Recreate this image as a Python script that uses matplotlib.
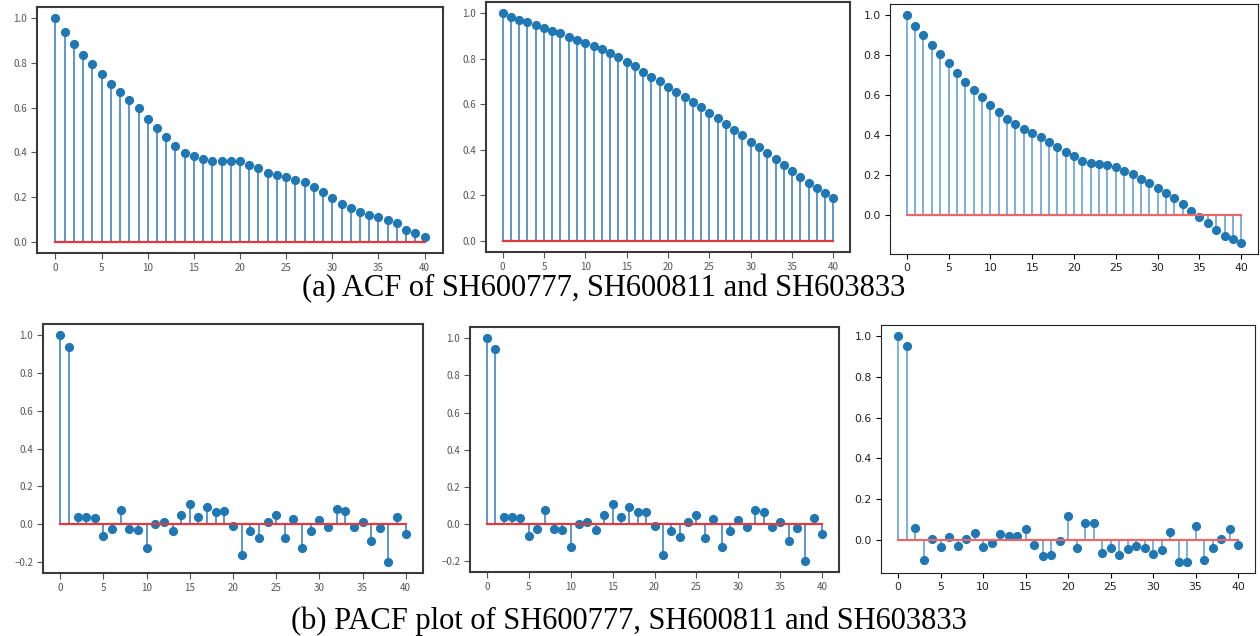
import matplotlib.pyplot as plt
import numpy as np

## ACF / PACF values read per lag (0..40)
lags = np.arange(41)

acf_600777 = [1.000, 0.939, 0.884, 0.837, 0.797, 0.752, 0.706, 0.672, 0.636, 0.599,
              0.549, 0.507, 0.470, 0.430, 0.399, 0.382, 0.369, 0.363, 0.360, 0.363,
              0.363, 0.345, 0.328, 0.309, 0.299, 0.290, 0.275, 0.267, 0.245, 0.221,
              0.196, 0.170, 0.149, 0.134, 0.122, 0.110, 0.097, 0.085, 0.055, 0.040,
              0.020]
acf_600811 = [1.000, 0.982, 0.971, 0.960, 0.949, 0.937, 0.924, 0.912, 0.897, 0.884,
              0.871, 0.856, 0.843, 0.827, 0.806, 0.787, 0.770, 0.744, 0.721, 0.701,
              0.676, 0.654, 0.632, 0.611, 0.587, 0.563, 0.540, 0.513, 0.488, 0.463,
              0.435, 0.411, 0.384, 0.359, 0.333, 0.308, 0.282, 0.255, 0.230, 0.208,
              0.186]
acf_603833 = [1.000, 0.948, 0.901, 0.853, 0.804, 0.759, 0.712, 0.665, 0.623, 0.590,
              0.549, 0.515, 0.480, 0.454, 0.429, 0.410, 0.387, 0.363, 0.337, 0.313,
              0.295, 0.271, 0.260, 0.256, 0.250, 0.238, 0.221, 0.203, 0.179, 0.156,
              0.132, 0.106, 0.082, 0.055, 0.020, -0.010, -0.044, -0.079, -0.109, -0.124,
              -0.141]

pacf_600777 = [1.000, 0.940, 0.037, 0.037, 0.032, -0.062, -0.027, 0.073, -0.027, -0.030,
               -0.126, -0.002, 0.009, -0.034, 0.050, 0.107, 0.039, 0.089, 0.064, 0.068,
               -0.011, -0.165, -0.039, -0.071, 0.011, 0.050, -0.073, 0.027, -0.125, -0.036,
               0.021, -0.016, 0.078, 0.068, -0.016, 0.012, -0.089, -0.021, -0.199, 0.036,
               -0.055]
pacf_600811 = [1.000, 0.939, 0.039, 0.039, 0.034, -0.063, -0.025, 0.074, -0.024, -0.029,
               -0.124, 0.000, 0.011, -0.032, 0.050, 0.107, 0.039, 0.090, 0.064, 0.068,
               -0.011, -0.163, -0.039, -0.070, 0.011, 0.050, -0.072, 0.029, -0.122, -0.034,
               0.022, -0.014, 0.077, 0.068, -0.016, 0.011, -0.088, -0.020, -0.197, 0.036,
               -0.052]
pacf_603833 = [1.000, 0.951, 0.061, -0.100, 0.007, -0.034, 0.013, -0.028, 0.007, 0.034,
               -0.034, -0.016, 0.028, 0.021, 0.021, 0.056, -0.023, -0.077, -0.074, -0.007,
               0.118, -0.039, 0.085, 0.085, -0.062, -0.039, -0.074, -0.044, -0.028, -0.039,
               -0.067, -0.049, 0.039, -0.107, -0.107, 0.067, -0.100, -0.039, 0.007, 0.056,
               -0.023]

caption_a = '(a) ACF of SH600777, SH600811 and SH603833'
caption_b = '(b) PACF plot of SH600777, SH600811 and SH603833'

W, H = 1260, 636
fig = plt.figure(figsize=(W / 100, H / 100), dpi=100)


def rect(l, r, t, b):
    return [l / W, 1 - b / H, (r - l) / W, (b - t) / H]


def stem_panel(box, vals, seaborn_look):
    ax = fig.add_axes(rect(*box))
    if seaborn_look:
        stem_col, base_col = '#2f7bbf', '#e0393e'
    else:
        stem_col, base_col = '#5a9bd4', '#e8676a'
    markers, stems, base = ax.stem(lags, vals, basefmt='-')
    plt.setp(stems, color=stem_col, linewidth=1.1)
    plt.setp(markers, color='#1f77b4', markersize=5.6)
    plt.setp(base, color=base_col, linewidth=1.6)
    ax.set_xticks(np.arange(0, 41, 5))
    if seaborn_look:
        # screenshots from a notebook with seaborn "ticks" look
        for s in ax.spines.values():
            s.set_color('#3a3a3a')
            s.set_linewidth(1.5)
        ax.tick_params(length=4, width=0.8, color='#555555', labelcolor='#555555',
                       labelsize=7, pad=3)
        for lab in ax.get_xticklabels() + ax.get_yticklabels():
            lab.set_family(['Noto Sans CJK SC', 'DejaVu Sans'])
    else:
        for s in ax.spines.values():
            s.set_color('#222222')
            s.set_linewidth(0.8)
        ax.tick_params(length=3.5, width=0.8, labelcolor='#222222', labelsize=7.8, pad=3)
    return ax


# top row: ACF
stem_panel((37, 443, 7, 253), acf_600777, True)
stem_panel((486, 850, 2, 252), acf_600811, True)
stem_panel((890, 1258, 4, 254), acf_603833, False)

# bottom row: PACF
stem_panel((43, 423, 324, 573), pacf_600777, True)
stem_panel((470, 839, 327, 572), pacf_600811, True)
stem_panel((881, 1255, 325, 573), pacf_603833, False)

fig.text(604 / W, 1 - 296 / H, caption_a, ha='center', va='baseline',
         family='Liberation Serif', fontsize=22)
fig.text(629 / W, 1 - 629 / H, caption_b, ha='center', va='baseline',
         family='Liberation Serif', fontsize=22)

fig.savefig('out.png', dpi=100)
